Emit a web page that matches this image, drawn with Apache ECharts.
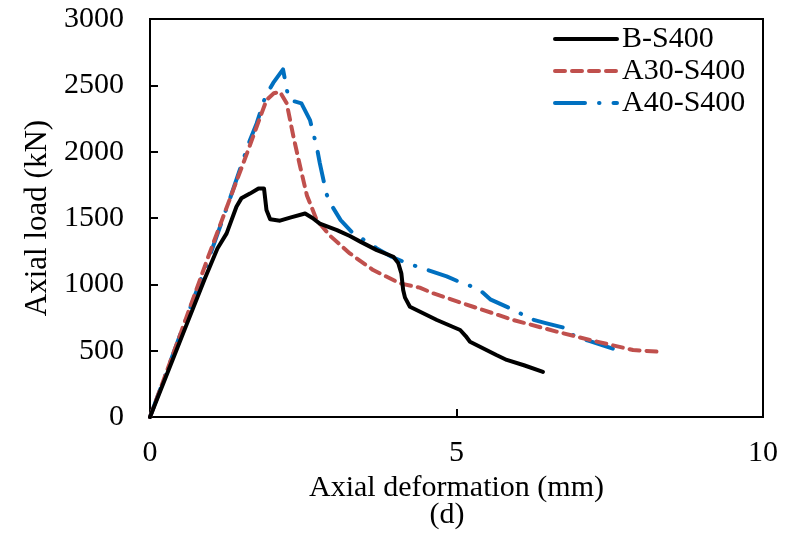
<!DOCTYPE html>
<html>
<head>
<meta charset="utf-8">
<script src="https://cdn.jsdelivr.net/npm/echarts@6/dist/echarts.min.js"></script>
<style>
html,body{margin:0;padding:0;background:#fff;}
#chart{width:787px;height:533px;}
</style>
</head>
<body>
<div id="chart"></div>
<script>
// Data
const seriesNames = ['B-S400', 'A30-S400', 'A40-S400'];

const bX = [0, 0.3, 0.6, 0.9, 1.1, 1.25, 1.41, 1.49, 1.63, 1.77, 1.86, 1.90, 1.96, 2.12, 2.3, 2.53, 2.65, 2.77, 3.05, 3.26, 3.43, 3.7, 3.97, 4.05, 4.10, 4.13, 4.16, 4.24, 4.68, 5.06, 5.15, 5.22, 5.65, 5.82, 6.1, 6.41];
const bY = [0, 350, 700, 1050, 1270, 1384, 1585, 1648, 1684, 1723, 1723, 1560, 1490, 1480, 1505, 1534, 1500, 1458, 1409, 1364, 1322, 1258, 1208, 1160, 1083, 957, 900, 831, 731, 656, 610, 567, 467, 430, 390, 340];

const a30X = [0, 0.5, 0.95, 1.3, 1.6, 1.74, 1.90, 2.02, 2.12, 2.23, 2.34, 2.45, 2.56, 2.72, 2.94, 3.26, 3.64, 4.08, 4.40, 4.62, 5.27, 5.93, 6.63, 7.29, 7.88, 8.37];
const a30Y = [0, 630, 1208, 1640, 2010, 2188, 2389, 2440, 2451, 2364, 2113, 1886, 1670, 1484, 1365, 1233, 1108, 1007, 975, 932, 831, 731, 644, 568, 505, 490];

const a40X = [0, 0.5, 0.98, 1.3, 1.63, 1.74, 1.88, 2.01, 2.17, 2.26, 2.35, 2.47, 2.61, 2.72, 2.77, 2.83, 2.88, 2.96, 3.11, 3.29, 3.70, 3.94, 4.19, 4.84, 5.08, 5.36, 5.55, 5.93, 6.23, 6.47, 6.85, 6.90, 7.15, 7.55];
const a40Y = [0, 630, 1221, 1640, 2087, 2213, 2413, 2518, 2620, 2400, 2380, 2364, 2238, 2037, 1914, 1786, 1680, 1597, 1484, 1396, 1271, 1208, 1160, 1060, 1012, 966, 887, 807, 736, 706, 662, 618, 575, 515];

const xTicks = [0, 5, 10];
const yTicks = [0, 500, 1000, 1500, 2000, 2500, 3000];

function pairs(xs, ys) { return xs.map((x, i) => [x, ys[i]]); }

const FONT = 'Liberation Serif';
const chart = echarts.init(document.getElementById('chart'), null, {renderer: 'canvas'});
chart.setOption({
  backgroundColor: '#ffffff',
  animation: false,
  textStyle: {fontFamily: FONT},
  grid: {left: 150, right: 24, top: 19, bottom: 116, show: true, borderColor: '#000', borderWidth: 2, backgroundColor: 'transparent'},
  legend: {
    orient: 'vertical', left: 553, top: 23, itemWidth: 62, itemHeight: 6, itemGap: 0, itemTextGap: 4, padding: 0,
    itemStyle: {opacity: 0},
    lineStyle: {width: 4},
    textStyle: {fontFamily: FONT, fontSize: 30, color: '#000', lineHeight: 32},
    data: seriesNames
  },
  xAxis: {
    type: 'value', min: xTicks[0], max: xTicks[xTicks.length - 1], interval: 5,
    name: 'Axial deformation (mm)', nameLocation: 'middle', nameGap: 52,
    nameTextStyle: {fontFamily: FONT, fontSize: 30, color: '#000'},
    axisLine: {show: true, lineStyle: {color: '#000', width: 2}},
    axisTick: {show: true, inside: true, length: 8, lineStyle: {color: '#000', width: 2}},
    axisLabel: {fontFamily: FONT, fontSize: 30, color: '#000', margin: 21, formatter: v => String(v)},
    splitLine: {show: false}
  },
  yAxis: {
    type: 'value', min: yTicks[0], max: yTicks[yTicks.length - 1], interval: 500,
    name: 'Axial load (kN)', nameLocation: 'middle', nameGap: 97,
    nameTextStyle: {fontFamily: FONT, fontSize: 31, color: '#000'},
    axisLine: {show: true, lineStyle: {color: '#000', width: 2}},
    axisTick: {show: true, inside: true, length: 8, lineStyle: {color: '#000', width: 2}},
    axisLabel: {fontFamily: FONT, fontSize: 30, color: '#000', margin: 26, formatter: v => String(v)},
    splitLine: {show: false}
  },
  graphic: [{
    type: 'text', x: 447, y: 515,
    style: {text: '(d)', font: '30px "Liberation Serif"', fill: '#000', textAlign: 'center', textVerticalAlign: 'middle'}
  }],
  series: [
    {name: seriesNames[0], type: 'line', data: pairs(bX, bY), showSymbol: false, symbol: 'none',
     lineStyle: {color: '#000000', width: 4, type: 'solid', cap: 'round', join: 'round'}, itemStyle: {color: '#000000'}, z: 3},
    {name: seriesNames[1], type: 'line', data: pairs(a30X, a30Y), showSymbol: false, symbol: 'none',
     lineStyle: {color: '#C0504D', width: 4, type: [10, 7], cap: 'round', join: 'round'}, itemStyle: {color: '#C0504D'}, z: 2},
    {name: seriesNames[2], type: 'line', data: pairs(a40X, a40Y), showSymbol: false, symbol: 'none',
     lineStyle: {color: '#0070C0', width: 4, type: [30, 14, 0.5, 14], cap: 'round', join: 'round'}, itemStyle: {color: '#0070C0'}, z: 1}
  ]
});
</script>
</body>
</html>
